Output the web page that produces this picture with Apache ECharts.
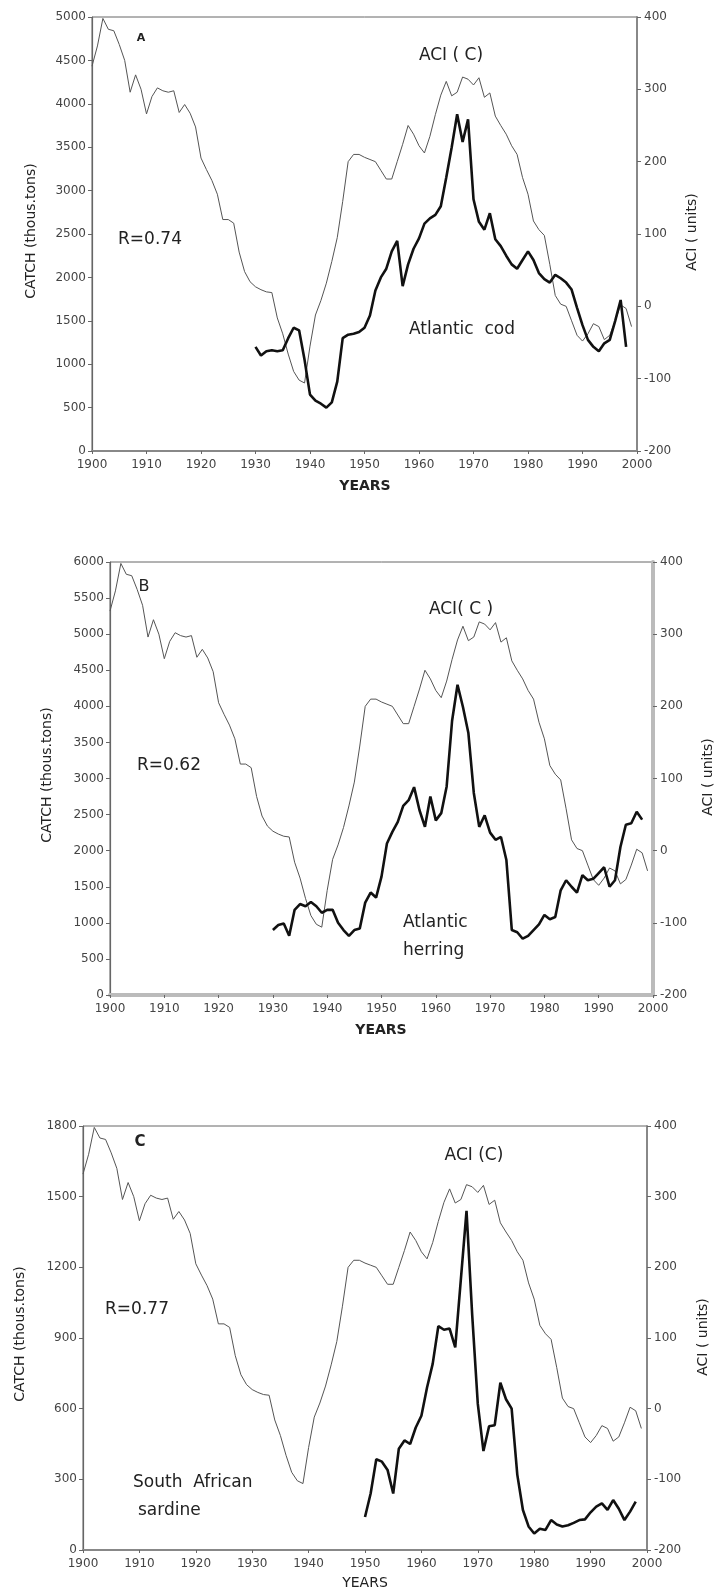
<!DOCTYPE html>
<html>
<head>
<meta charset="utf-8">
<script src="https://cdn.jsdelivr.net/npm/echarts@6/dist/echarts.min.js"></script>
<style>
  html, body { margin: 0; padding: 0; background: #ffffff; }
  #chart { width: 717px; height: 1593px; }
</style>
</head>
<body>
<div id="chart"></div>
<script>
// Atmospheric Circulation Index (C form), annual values 1900-1999, units
const aciStart = 1900;
const aci = [
  332, 360, 398, 383, 381, 362, 340, 296, 320, 300,
  266, 290, 302, 298, 296, 298, 268, 279, 267, 248,
  205, 189, 174, 155, 120, 120, 115, 75, 48, 34,
  27, 23, 20, 19, -16, -38, -66, -90, -102, -106,
  -55, -12, 8, 32, 62, 95, 145, 200, 210, 210,
  206, 203, 200, 188, 176, 176, 200, 224, 250, 238,
  222, 212, 235, 265, 292, 311, 291, 296, 317, 314,
  306, 316, 289, 295, 263, 250, 238, 222, 210, 178,
  155, 118, 106, 98, 58, 15, 3, 0, -20, -40,
  -48, -38, -24, -28, -46, -40, -20, 2, -3, -28
];

// Atlantic cod catch, thous. tons, 1930-1998
const codStart = 1930;
const codCatch = [
  1200, 1100, 1150, 1160, 1150, 1160, 1300, 1420, 1390, 1050,
  650, 580, 545, 500, 560, 800, 1300, 1340, 1350, 1370,
  1420, 1560, 1850, 2000, 2100, 2300, 2420, 1900, 2150, 2330,
  2450, 2620, 2680, 2720, 2820, 3150, 3500, 3880, 3560, 3820,
  2900, 2640, 2550, 2740, 2440, 2360, 2250, 2150, 2100, 2200,
  2300, 2200, 2050, 1980, 1940, 2030, 1990, 1940, 1860, 1650,
  1450, 1280, 1200, 1150, 1240, 1280, 1500, 1740, 1200
];

// Atlantic herring catch, thous. tons, 1930-1998
const herringStart = 1930;
const herringCatch = [
  900, 970, 990, 820, 1180, 1260, 1230, 1290, 1230, 1140,
  1180, 1180, 1000, 900, 820, 900, 920, 1280, 1420, 1350,
  1640, 2100, 2260, 2400, 2620, 2700, 2880, 2560, 2330, 2750,
  2420, 2520, 2890, 3800, 4300, 3990, 3630, 2800, 2330, 2490,
  2250, 2150, 2190, 1870, 900, 870, 780, 820, 900, 980,
  1110, 1050, 1080, 1450, 1590, 1500, 1420, 1660, 1590, 1610,
  1690, 1770, 1500, 1590, 2050, 2360, 2380, 2540, 2430
];

// South African sardine catch, thous. tons, 1950-1998
const sardineStart = 1950;
const sardineCatch = [
  140, 240, 385, 375, 340, 240, 430, 465, 450, 520,
  570, 690, 790, 950, 935, 940, 860, 1150, 1440, 1000,
  620, 420, 525, 530, 710, 640, 600, 320, 170, 100,
  70, 90, 85, 127, 108, 100, 105, 115, 127, 130,
  160, 184, 198, 170, 212, 175, 127, 163, 205
];

const yearMin = 1900, yearMax = 2000, yearStep = 10;
const aciMin = -200, aciMax = 400, aciStep = 100;

const FONT = '"DejaVu Sans", "Liberation Sans", Arial, sans-serif';

function toPairs(start, values) {
  return values.map((v, k) => [start + k, v]);
}

// one entry per panel: plot box, catch axis range, axis line look, texts
const panels = [
  {
    box: { left: 92, top: 17, width: 545, height: 434 },
    catchMax: 5000, catchStep: 500,
    catchStart: codStart, catchValues: codCatch,
    frame: '#666', bottomLine: { color: '#888', width: 2 }, rightLine: { color: '#888', width: 2 },
    texts: [
      { x: 141, y: 38, text: 'A', font: 'bold 11px ' + FONT },
      { x: 150, y: 240, text: 'R=0.74', font: '17px ' + FONT },
      { x: 451, y: 56, text: 'ACI ( C)', font: '17px ' + FONT },
      { x: 462, y: 330, text: 'Atlantic  cod', font: '17px ' + FONT },
      { x: 365, y: 486, text: 'YEARS', font: 'bold 14px ' + FONT },
      { x: 31, y: 231, text: 'CATCH (thous.tons)', font: '14px ' + FONT, rot: true },
      { x: 692, y: 232, text: 'ACI ( units)', font: '14px ' + FONT, rot: true }
    ]
  },
  {
    box: { left: 110, top: 562, width: 543, height: 433 },
    catchMax: 6000, catchStep: 500,
    catchStart: herringStart, catchValues: herringCatch,
    frame: '#666', bottomLine: { color: '#bbb', width: 4 }, rightLine: { color: '#bbb', width: 4 },
    texts: [
      { x: 144, y: 587, text: 'B', font: '16px ' + FONT },
      { x: 169, y: 766, text: 'R=0.62', font: '17px ' + FONT },
      { x: 461, y: 610, text: 'ACI( C )', font: '17px ' + FONT },
      { x: 403, y: 923, text: 'Atlantic', font: '17px ' + FONT, align: 'left' },
      { x: 403, y: 951, text: 'herring', font: '17px ' + FONT, align: 'left' },
      { x: 381, y: 1030, text: 'YEARS', font: 'bold 14px ' + FONT },
      { x: 47, y: 775, text: 'CATCH (thous.tons)', font: '14px ' + FONT, rot: true },
      { x: 708, y: 777, text: 'ACI ( units)', font: '14px ' + FONT, rot: true }
    ]
  },
  {
    box: { left: 83, top: 1126, width: 564, height: 424 },
    catchMax: 1800, catchStep: 300,
    catchStart: sardineStart, catchValues: sardineCatch,
    frame: '#666', bottomLine: { color: '#888', width: 2 }, rightLine: { color: '#888', width: 2 },
    texts: [
      { x: 140, y: 1142, text: 'C', font: 'bold 15px ' + FONT },
      { x: 137, y: 1310, text: 'R=0.77', font: '17px ' + FONT },
      { x: 474, y: 1156, text: 'ACI (C)', font: '17px ' + FONT },
      { x: 133, y: 1483, text: 'South  African', font: '17px ' + FONT, align: 'left' },
      { x: 138, y: 1511, text: 'sardine', font: '17px ' + FONT, align: 'left' },
      { x: 365, y: 1583, text: 'YEARS', font: '14px ' + FONT },
      { x: 20, y: 1334, text: 'CATCH (thous.tons)', font: '14px ' + FONT, rot: true },
      { x: 703, y: 1337, text: 'ACI ( units)', font: '14px ' + FONT, rot: true }
    ]
  }
];

// plain numbers on every axis, no thousands separators
const tickLabel = {
  fontSize: 12, fontFamily: FONT, color: '#444',
  formatter: v => String(v)
};

const grid = [], xAxis = [], yAxis = [], series = [], graphic = [];

panels.forEach((p, i) => {
  grid.push(Object.assign({
    show: true, borderColor: p.frame, borderWidth: 1, backgroundColor: 'transparent'
  }, p.box));

  xAxis.push({
    gridIndex: i, type: 'value', min: yearMin, max: yearMax, interval: yearStep,
    axisLine: { show: true, lineStyle: p.bottomLine },
    axisTick: { show: true, length: 3, lineStyle: { color: '#666', width: 1 } },
    axisLabel: Object.assign({ margin: 8 }, tickLabel),
    splitLine: { show: false }
  });

  yAxis.push({
    gridIndex: i, type: 'value', position: 'left',
    min: 0, max: p.catchMax, interval: p.catchStep,
    axisLine: { show: true, lineStyle: { color: '#666', width: 1.2 } },
    axisTick: { show: true, length: 4, lineStyle: { color: '#666', width: 1 } },
    axisLabel: Object.assign({ margin: 6 }, tickLabel),
    splitLine: { show: false }
  });

  yAxis.push({
    gridIndex: i, type: 'value', position: 'right',
    min: aciMin, max: aciMax, interval: aciStep,
    axisLine: { show: true, lineStyle: p.rightLine },
    axisTick: { show: true, length: 4, lineStyle: { color: '#666', width: 1 } },
    axisLabel: Object.assign({ margin: 7 }, tickLabel),
    splitLine: { show: false }
  });

  // ACI curve, thin grey, on the right-hand axis
  series.push({
    type: 'line', xAxisIndex: i, yAxisIndex: 2 * i + 1,
    data: toPairs(aciStart, aci),
    showSymbol: false, symbol: 'none',
    lineStyle: { color: '#555', width: 1 },
    z: 2, animation: false
  });

  // catch curve, thick black, on the left-hand axis
  series.push({
    type: 'line', xAxisIndex: i, yAxisIndex: 2 * i,
    data: toPairs(p.catchStart, p.catchValues),
    showSymbol: false, symbol: 'none',
    lineStyle: { color: '#111', width: 2.6 },
    z: 3, animation: false
  });

  p.texts.forEach(t => {
    const align = t.align || 'center';
    graphic.push({
      type: 'text', x: t.x, y: t.y,
      rotation: t.rot ? Math.PI / 2 : 0,
      z: 10,
      style: {
        text: t.text, x: 0, y: 0, fill: '#222', font: t.font,
        align: align, verticalAlign: 'middle',
        textAlign: align, textVerticalAlign: 'middle'
      }
    });
  });
});

const chart = echarts.init(document.getElementById('chart'), null, { renderer: 'canvas' });
chart.setOption({
  backgroundColor: '#ffffff',
  animation: false,
  grid, xAxis, yAxis, series, graphic
});
</script>
</body>
</html>
